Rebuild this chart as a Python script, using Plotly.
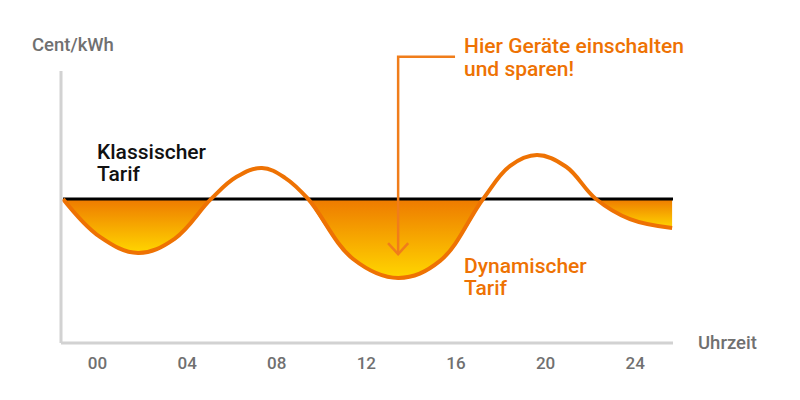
import plotly.graph_objects as go

# Hour of day and dynamic price (cent/kWh) along the day
hours = [-1.54, 0.11, 1.81, 3.44, 5.07, 6.21, 7.34, 8.37, 9.40, 11.41,
         13.42, 15.29, 17.21, 18.42, 19.62, 20.92, 22.25, 23.77, 25.65]
dynamic = [30.0, 22.1, 18.75, 21.7, 30.0, 34.6, 36.45, 34.4, 30.0, 17.5,
           13.55, 17.1, 30.0, 36.9, 39.15, 36.7, 30.0, 25.8, 23.95]
classic = 30.0

tick_hours = [0, 4, 8, 12, 16, 20, 24]
tick_labels = ["00", "04", "08", "12", "16", "20", "24"]

# Callout arrow pointing into the cheapest period
arrow_x = 13.42
arrow_top = 59.6
arrow_tip = 18.5
arrow_elbow_end = 15.96

X_RANGE = [-1.63, 25.69]
Y_RANGE = [0, 63.1]

ORANGE = "#EE7203"
ARROW = "#F07D1A"
GRAY = "#707070"
AXIS = "#D2D2D2"
FONT = "Roboto"
SMOOTH = 1.1

fig = go.Figure()

# Gradient fills for every stretch where the dynamic price is below the flat tariff
runs, cur = [], []
for h, v in zip(hours, dynamic):
    if v <= classic:
        cur.append((h, v))
    else:
        if len(cur) > 1:
            runs.append(cur)
        cur = []
if len(cur) > 1:
    runs.append(cur)

for run in runs:
    xs = [p[0] for p in run]
    ys = [p[1] for p in run]
    fig.add_trace(go.Scatter(
        x=[xs[0], xs[-1]], y=[classic, classic], mode="lines",
        line=dict(width=0), hoverinfo="skip", showlegend=False))
    fig.add_trace(go.Scatter(
        x=xs, y=ys, mode="lines",
        line=dict(width=0, shape="spline", smoothing=SMOOTH),
        fill="tonexty",
        fillgradient=dict(type="vertical",
                          colorscale=[[0, "#FFD600"], [1, "#EE7A00"]]),
        hoverinfo="skip", showlegend=False))

# Flat classic tariff
fig.add_trace(go.Scatter(
    x=[hours[0], X_RANGE[1]], y=[classic, classic], mode="lines",
    line=dict(color="#000000", width=3), showlegend=False))

# Dynamic tariff curve
fig.add_trace(go.Scatter(
    x=hours, y=dynamic, mode="lines",
    line=dict(color=ORANGE, width=4, shape="spline", smoothing=SMOOTH),
    showlegend=False))

# Callout arrow: elbow line and open head
fig.add_trace(go.Scatter(
    x=[arrow_elbow_end, arrow_x, arrow_x], y=[arrow_top, arrow_top, arrow_tip],
    mode="lines", line=dict(color=ARROW, width=2.5), showlegend=False))
fig.add_trace(go.Scatter(
    x=[arrow_x - 0.45, arrow_x, arrow_x + 0.45],
    y=[arrow_tip + 2.3, arrow_tip, arrow_tip + 2.3],
    mode="lines", line=dict(color=ARROW, width=2.5), showlegend=False))


def label(x, y, text, color, size=21, ref="x"):
    return dict(x=x, y=y, xref=ref, yref=ref.replace("x", "y"), text=text,
                xanchor="left", yanchor="middle", showarrow=False,
                font=dict(family=FONT, size=size, color=color, weight=500))


annotations = [
    label(-0.0507, 0.9835, "Cent/kWh", GRAY, 18.5, "paper"),
    label(1.0376, 0.0, "Uhrzeit", GRAY, 18.5, "paper"),
    label(-0.1, 39.7, "Klassischer", "#111111"),
    label(-0.1, 35.1, "Tarif", "#111111"),
    label(16.25, 16.0, "Dynamischer", ORANGE),
    label(16.25, 11.5, "Tarif", ORANGE),
    label(16.25, 61.8, "Hier Geräte einschalten", ORANGE),
    label(16.25, 57.1, "und sparen!", ORANGE),
]
for a in annotations:
    if a["xref"] == "paper":
        a["yref"] = "paper"

fig.update_layout(
    width=800, height=400,
    margin=dict(l=61, r=127, t=40, b=57),
    plot_bgcolor="white", paper_bgcolor="white",
    annotations=annotations,
    shapes=[
        dict(type="line", xref="paper", yref="paper", x0=0, x1=0,
             y0=0, y1=(343 - 71) / 303, line=dict(color=AXIS, width=3)),
        dict(type="line", xref="paper", yref="paper", x0=0, x1=1,
             y0=0, y1=0, line=dict(color=AXIS, width=3)),
    ],
)
fig.update_xaxes(range=X_RANGE, showgrid=False, zeroline=False, showline=False,
                 tickvals=tick_hours, ticktext=tick_labels, ticks="",
                 ticklabelstandoff=8,
                 tickfont=dict(family=FONT, size=17, color=GRAY, weight=500))
fig.update_yaxes(range=Y_RANGE, showgrid=False, zeroline=False, showline=False,
                 showticklabels=False)

fig.write_html("out.html")
